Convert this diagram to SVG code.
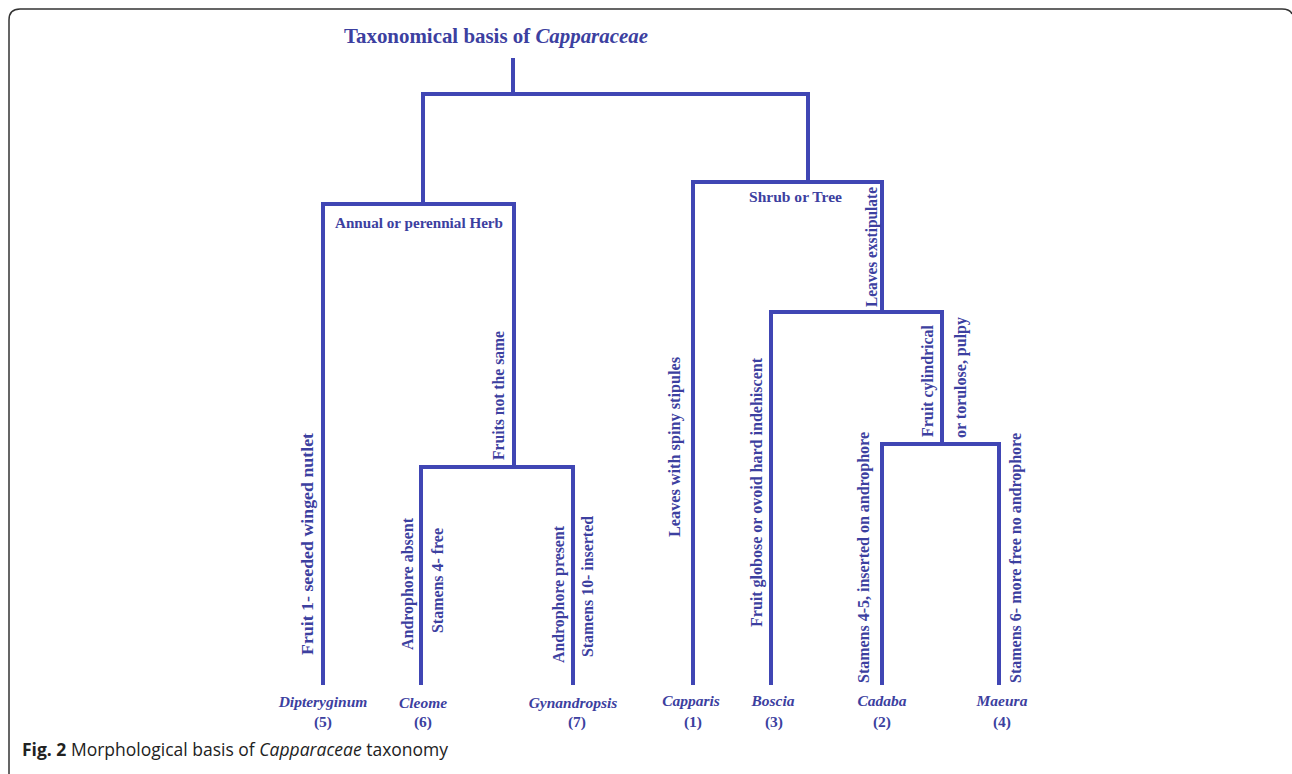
<svg xmlns="http://www.w3.org/2000/svg" width="1292" height="774" viewBox="0 0 1292 774">
<style>
.ln{stroke:#4046b4;stroke-width:4;fill:none;stroke-linecap:square}
.t{font-family:"Liberation Serif","Times New Roman",serif;font-weight:bold;fill:#3c40a0;font-size:15px}
.v{font-family:"Liberation Serif","Times New Roman",serif;font-weight:bold;fill:#3c40a0;font-size:16px}
.lf{font-family:"Liberation Serif","Times New Roman",serif;font-weight:bold;font-style:italic;fill:#3c40a0;font-size:15.5px;text-anchor:middle}
.num{font-family:"Liberation Serif","Times New Roman",serif;font-weight:bold;fill:#3c40a0;font-size:15.5px;text-anchor:middle}
.cap{font-family:"Open Sans","Noto Sans",sans-serif;font-size:17.5px;fill:#222}
</style>
<rect width="1292" height="774" fill="#fff"/>
<path d="M9 774 V20 Q9 9 20 9 H1282 Q1290 9 1292 14" fill="none" stroke="#333" stroke-width="1.5"/>

<g id="title">
<text x="344" y="43" font-family="Liberation Serif,'Times New Roman',serif" font-weight="bold" font-size="21" fill="#3c40a0" textLength="304" lengthAdjust="spacingAndGlyphs">Taxonomical basis of <tspan font-style="italic">Capparaceae</tspan></text>
</g>

<g id="connectors">
<path class="ln" d="M513 60 V94 M423 94 H808 M423 94 V204 M808 94 V182"/>
<path class="ln" d="M323 204 H514 M323 204 V683 M514 204 V467"/>
<path class="ln" d="M421 467 H573 M421 467 V683 M573 467 V683"/>
<path class="ln" d="M693 182 H882 M693 182 V683 M882 182 V312"/>
<path class="ln" d="M771 312 H942 M771 312 V683 M942 312 V444"/>
<path class="ln" d="M882 444 H999 M882 444 V683 M999 444 V683"/>
</g>

<g id="branch-labels">
<text class="t" x="335" y="228" textLength="168" lengthAdjust="spacingAndGlyphs">Annual or perennial Herb</text>
<text class="t" x="749" y="202" textLength="93" lengthAdjust="spacingAndGlyphs">Shrub or Tree</text>
<text class="v" transform="translate(313,655) rotate(-90)" textLength="222" lengthAdjust="spacingAndGlyphs">Fruit 1- seeded winged nutlet</text>
<text class="v" transform="translate(504,460) rotate(-90)" textLength="129" lengthAdjust="spacingAndGlyphs">Fruits not the same</text>
<text class="v" transform="translate(413,650) rotate(-90)" textLength="132" lengthAdjust="spacingAndGlyphs">Androphore absent</text>
<text class="v" transform="translate(443,633) rotate(-90)" textLength="105" lengthAdjust="spacingAndGlyphs">Stamens 4- free</text>
<text class="v" transform="translate(564,663) rotate(-90)" textLength="137" lengthAdjust="spacingAndGlyphs">Androphore present</text>
<text class="v" transform="translate(593,657) rotate(-90)" textLength="141" lengthAdjust="spacingAndGlyphs">Stamens 10- inserted</text>
<text class="v" transform="translate(680,537) rotate(-90)" textLength="180" lengthAdjust="spacingAndGlyphs">Leaves with spiny stipules</text>
<text class="v" transform="translate(762,627) rotate(-90)" textLength="269" lengthAdjust="spacingAndGlyphs">Fruit globose or ovoid hard indehiscent</text>
<text class="v" transform="translate(877,307) rotate(-90)" textLength="120" lengthAdjust="spacingAndGlyphs">Leaves exstipulate</text>
<text class="v" transform="translate(933,437) rotate(-90)" textLength="112" lengthAdjust="spacingAndGlyphs">Fruit cylindrical</text>
<text class="v" transform="translate(966,438) rotate(-90)" textLength="121" lengthAdjust="spacingAndGlyphs">or torulose, pulpy</text>
<text class="v" transform="translate(869,683) rotate(-90)" textLength="251" lengthAdjust="spacingAndGlyphs">Stamens 4-5, inserted on androphore</text>
<text class="v" transform="translate(1021,683) rotate(-90)" textLength="250" lengthAdjust="spacingAndGlyphs">Stamens 6- more free no androphore</text>
</g>

<g id="leaf-dipteryginum"><text class="lf" x="323" y="707">Dipteryginum</text><text class="num" x="323" y="727">(5)</text></g>
<g id="leaf-cleome"><text class="lf" x="423" y="708">Cleome</text><text class="num" x="423" y="727">(6)</text></g>
<g id="leaf-gynandropsis"><text class="lf" x="573" y="708">Gynandropsis</text><text class="num" x="577" y="727">(7)</text></g>
<g id="leaf-capparis"><text class="lf" x="691" y="706">Capparis</text><text class="num" x="693" y="727">(1)</text></g>
<g id="leaf-boscia"><text class="lf" x="773" y="706">Boscia</text><text class="num" x="774" y="727">(3)</text></g>
<g id="leaf-cadaba"><text class="lf" x="882" y="706">Cadaba</text><text class="num" x="882" y="727">(2)</text></g>
<g id="leaf-maeura"><text class="lf" x="1002" y="706">Maeura</text><text class="num" x="1002" y="727">(4)</text></g>

<g id="caption">
<text class="cap" x="22" y="756"><tspan font-weight="bold">Fig. 2</tspan> Morphological basis of <tspan font-style="italic">Capparaceae</tspan> taxonomy</text>
</g>
</svg>
